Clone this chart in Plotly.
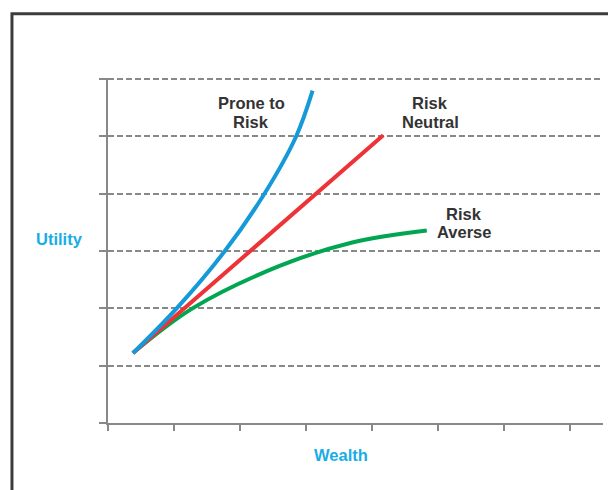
import plotly.graph_objects as go

# Data
prone_x = [0.378, 1.04, 1.77, 2.37, 2.85, 3.10]
prone_y = [1.22, 2.00, 3.00, 4.00, 5.00, 5.80]

neutral_x = [0.378, 4.17]
neutral_y = [1.22, 5.02]

averse_x = [0.378, 1.28, 2.60, 3.70, 4.83]
averse_y = [1.22, 2.00, 2.74, 3.15, 3.36]

x_ticks = [0, 1, 2, 3, 4, 5, 6, 7]
y_ticks = [0, 1, 2, 3, 4, 5, 6]

labels = [
    ("Prone to", 2.17, 5.58), ("Risk", 2.17, 5.26),
    ("Risk", 4.88, 5.58), ("Neutral", 4.88, 5.26),
    ("Risk", 5.39, 3.65), ("Averse", 5.39, 3.33),
]

BLUE = "#1599d8"
RED = "#ee3338"
GREEN = "#00a651"
TITLE_BLUE = "#19ade6"
GRID = "#888888"
FONT = "Liberation Sans, Arial"

fig = go.Figure()
fig.add_trace(go.Scatter(x=averse_x, y=averse_y, mode="lines",
                         line=dict(color=GREEN, width=4, shape="spline", smoothing=1.0),
                         hoverinfo="skip"))
fig.add_trace(go.Scatter(x=neutral_x, y=neutral_y, mode="lines",
                         line=dict(color=RED, width=4), hoverinfo="skip"))
fig.add_trace(go.Scatter(x=prone_x, y=prone_y, mode="lines",
                         line=dict(color=BLUE, width=4, shape="spline", smoothing=1.0),
                         hoverinfo="skip"))

for text, x, y in labels:
    fig.add_annotation(x=x, y=y, xref="x", yref="y", text="<b>%s</b>" % text,
                       showarrow=False, align="center", xanchor="center", yanchor="middle",
                       font=dict(family=FONT, size=16.5, color="#333333"))

fig.add_annotation(x=-0.097, y=0.532, xref="paper", yref="paper", text="<b>Utility</b>",
                   showarrow=False, xanchor="center", yanchor="middle",
                   font=dict(family=FONT, size=16.5, color=TITLE_BLUE))
fig.add_annotation(x=0.471, y=-0.093, xref="paper", yref="paper", text="<b>Wealth</b>",
                   showarrow=False, xanchor="center", yanchor="middle",
                   font=dict(family=FONT, size=16.5, color=TITLE_BLUE))

# outer frame (extends beyond the right and bottom edges)
fig.add_shape(type="rect", xref="paper", yref="paper",
              x0=-0.194, y0=-0.5, x1=1.3, y1=1.186,
              line=dict(color="#3c3c3c", width=3), layer="below")

# page has an 8px body margin, so the figure is 608x482 and margins are shifted
fig.update_layout(
    width=608, height=482,
    margin=dict(l=100, r=13, t=70, b=67),
    paper_bgcolor="white", plot_bgcolor="white",
    showlegend=False,
    xaxis=dict(range=[0, 7.5], tickvals=x_ticks, showticklabels=False,
               ticks="outside", ticklen=6, tickwidth=1.5, tickcolor=GRID,
               showline=True, linecolor=GRID, linewidth=1.5,
               showgrid=False, zeroline=False, fixedrange=True),
    yaxis=dict(range=[0, 6.02], tickvals=y_ticks, showticklabels=False,
               ticks="outside", ticklen=7, tickwidth=1.5, tickcolor=GRID,
               showline=True, linecolor=GRID, linewidth=1.5,
               showgrid=True, gridcolor=GRID, gridwidth=2.2, griddash="6px,3px",
               zeroline=False, fixedrange=True),
)

fig.write_html("out.html")
